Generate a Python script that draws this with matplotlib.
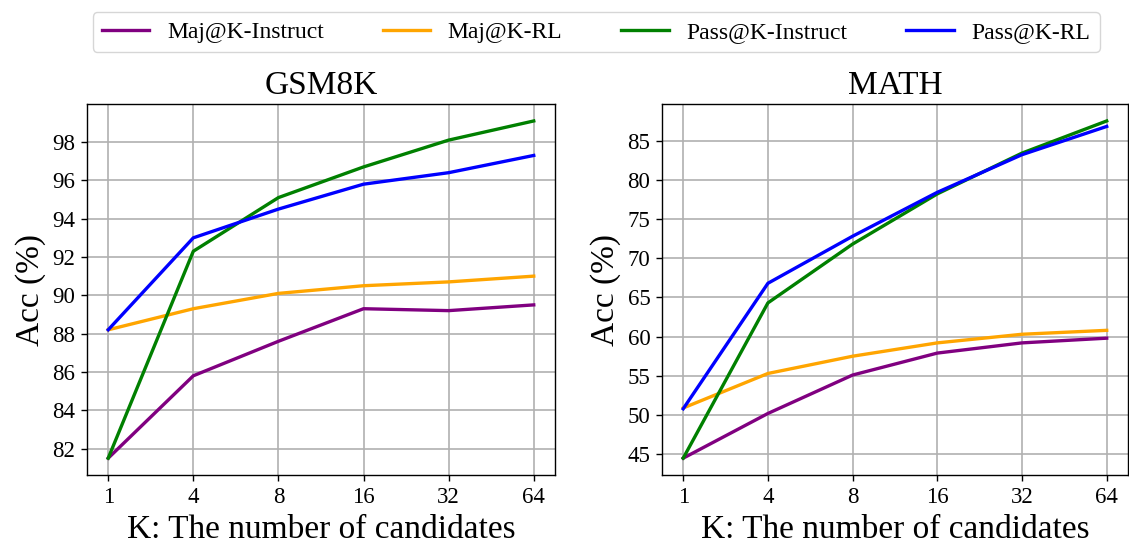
import matplotlib.pyplot as plt
import numpy as np

plt.rcParams['font.family'] = ['Liberation Serif', 'DejaVu Serif']

k_labels = ['1', '4', '8', '16', '32', '64']

gsm_maj_instruct = [81.5, 85.8, 87.6, 89.3, 89.2, 89.5]
gsm_maj_rl = [88.2, 89.3, 90.1, 90.5, 90.7, 91.0]
gsm_pass_instruct = [81.5, 92.3, 95.1, 96.7, 98.1, 99.1]
gsm_pass_rl = [88.2, 93.0, 94.5, 95.8, 96.4, 97.3]

math_maj_instruct = [44.5, 50.2, 55.1, 57.9, 59.2, 59.8]
math_maj_rl = [50.9, 55.3, 57.5, 59.2, 60.3, 60.8]
math_pass_instruct = [44.5, 64.3, 71.8, 78.2, 83.4, 87.5]
math_pass_rl = [50.8, 66.8, 72.8, 78.4, 83.2, 86.8]

x = np.arange(len(k_labels))

fig, axes = plt.subplots(1, 2, figsize=(11.29, 5.45), dpi=100)
axes[0].set_position([0.077, 0.1284, 0.4146, 0.6806])
axes[1].set_position([0.5864, 0.1284, 0.4126, 0.6806])

panels = [
    ('GSM8K', gsm_maj_instruct, gsm_maj_rl, gsm_pass_instruct, gsm_pass_rl),
    ('MATH', math_maj_instruct, math_maj_rl, math_pass_instruct, math_pass_rl),
]

for ax, (title, mi, mr, pi, pr) in zip(axes, panels):
    ax.plot(x, mi, color='purple', lw=2.4, label='Maj@K-Instruct')
    ax.plot(x, mr, color='orange', lw=2.4, label='Maj@K-RL')
    ax.plot(x, pi, color='green', lw=2.4, label='Pass@K-Instruct')
    ax.plot(x, pr, color='blue', lw=2.4, label='Pass@K-RL')
    ax.set_title(title, fontsize=24, pad=7)
    ax.set_xticks(x)
    ax.set_xticklabels(k_labels)
    ax.tick_params(labelsize=16.5, length=4.2, width=1, pad=4.2)
    ax.set_xlabel('K: The number of candidates', fontsize=24, labelpad=4.8)
    ax.set_ylabel('Acc (%)', fontsize=24, labelpad=4.8)
    ax.grid(True, color='#b0b0b0', lw=1.2)
    for sp in ax.spines.values():
        sp.set_linewidth(1)

axes[0].set_yticks(np.arange(82, 99, 2))
axes[1].set_yticks(np.arange(45, 86, 5))

handles, labels = axes[0].get_legend_handles_labels()
leg = fig.legend(handles, labels, loc='upper center', ncol=4, fontsize=17,
                 bbox_to_anchor=(0.528, 1.0), columnspacing=2.5, handletextpad=0.75)
for h in leg.get_lines():
    h.set_linewidth(2.4)

plt.savefig('out.png', dpi=100)
